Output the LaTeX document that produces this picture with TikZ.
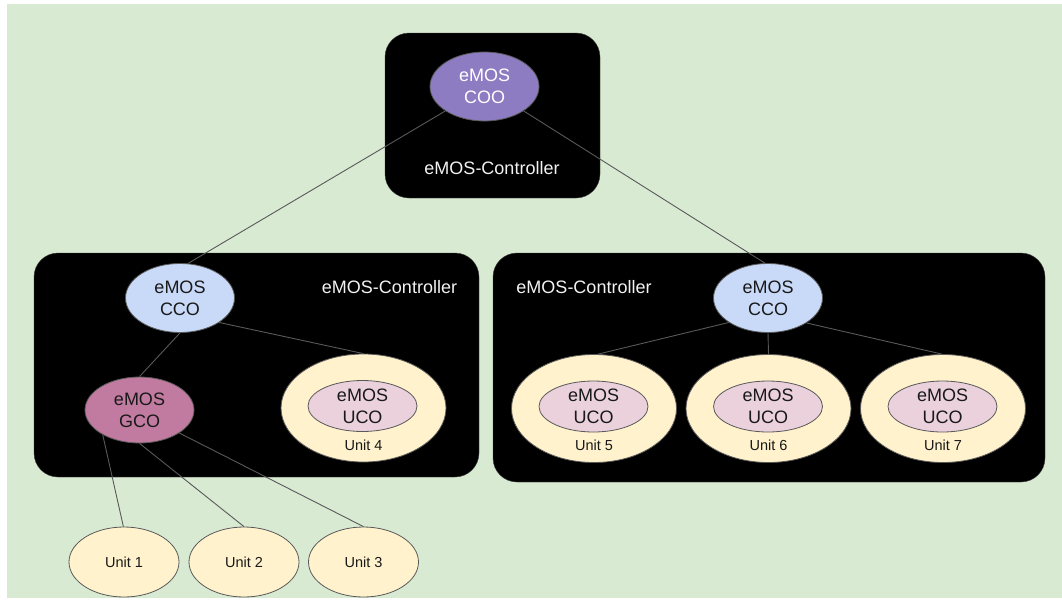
\documentclass[tikz,border=0pt]{standalone}
\usepackage{fontspec}
\setmainfont{Liberation Sans}
\usetikzlibrary{shapes.geometric}
\definecolor{bg}{HTML}{D9EAD3}
\definecolor{lin}{HTML}{595959}
\definecolor{purp}{HTML}{8E7CC3}
\definecolor{lblue}{HTML}{C9DAF8}
\definecolor{magen}{HTML}{C27BA0}
\definecolor{ylw}{HTML}{FFF2CC}
\definecolor{pink}{HTML}{EAD1DC}
\newcommand\fbig{\fontsize{18}{22}\selectfont}
\newcommand\fsmall{\fontsize{14.5}{17}\selectfont}
\tikzset{
  ctrlbox/.style={draw=black!75, fill=black, rounded corners=24pt, inner sep=0pt},
  ell/.style={ellipse, draw=lin, line width=0.8pt, inner sep=0pt, align=center, font=\fbig, text=black!90},
  bigell/.style={ell, minimum width=109pt, minimum height=69pt},
  unitell/.style={ell, fill=ylw, minimum width=165pt, minimum height=108pt},
  ucoell/.style={ell, fill=pink, minimum width=109pt, minimum height=51pt},
  botell/.style={ell, fill=ylw, minimum width=110pt, minimum height=70pt, font=\fsmall},
  ctrllabel/.style={text=white!95!black, font=\fbig, inner sep=0pt},
  unitlabel/.style={text=black!90, font=\fsmall, inner sep=0pt},
  conn/.style={draw=lin, line width=0.9pt}
}
\begin{document}
\begin{tikzpicture}[x=1pt,y=-1pt]
\useasboundingbox (0,0) rectangle (1062,600);
\fill[bg] (7,4) rectangle (1062,598);

% controller boxes
\node[ctrlbox, minimum width=215pt, minimum height=165pt] (boxT) at (492.5,115.5) {};
\node[ctrlbox, minimum width=445pt, minimum height=224pt] (boxL) at (256.5,365) {};
\node[ctrlbox, minimum width=552pt, minimum height=229pt] (boxR) at (769,367.5) {};

\node[ctrllabel] (labT) at (492,168) {eMOS-Controller};
\node[ctrllabel] (labL) at (389.5,287) {eMOS-Controller};
\node[ctrllabel] (labR) at (584,287) {eMOS-Controller};

% top
\node[bigell, fill=purp, text=white] (coo) at (484.5,86.5) {eMOS\\COO};

% left group
\node[bigell, fill=lblue] (ccoL) at (180,298) {eMOS\\CCO};
\node[bigell, fill=magen, minimum height=66pt] (gco) at (139.5,410) {eMOS\\GCO};
\node[unitell] (u4) at (363.5,408) {};
\node[ucoell] (uco4) at (362.5,406) {eMOS\\UCO};
\node[unitlabel] (t4) at (363.5,445) {Unit 4};

% right group
\node[bigell, fill=lblue] (ccoR) at (768,298) {eMOS\\CCO};
\node[unitell] (u5) at (594,408.5) {};
\node[ucoell] (uco5) at (593.5,406.5) {eMOS\\UCO};
\node[unitlabel] (t5) at (594,445) {Unit 5};
\node[unitell] (u6) at (768.5,408.5) {};
\node[ucoell] (uco6) at (768,406.5) {eMOS\\UCO};
\node[unitlabel] (t6) at (768.5,445) {Unit 6};
\node[unitell] (u7) at (943,408.5) {};
\node[ucoell] (uco7) at (942.5,406.5) {eMOS\\UCO};
\node[unitlabel] (t7) at (943,445) {Unit 7};

% bottom units
\node[botell] (u1) at (124,562) {Unit 1};
\node[botell] (u2) at (244,562) {Unit 2};
\node[botell] (u3) at (363.5,562) {Unit 3};

% connectors
\draw[conn] (coo.212.5) -- (ccoL.77);
\draw[conn] (coo.328.6) -- (ccoR.95);
\draw[conn] (ccoL.270) -- (gco.90);
\draw[conn] (ccoL.328) -- (u4.90);
\draw[conn] (gco.214.7) -- (u1.91);
\draw[conn] (gco.270) -- (u2.90);
\draw[conn] (gco.330) -- (u3.90);
\draw[conn] (ccoR.212.4) -- (u5.86);
\draw[conn] (ccoR.270) -- (u6.90);
\draw[conn] (ccoR.327) -- (u7.91);
\end{tikzpicture}
\end{document}
